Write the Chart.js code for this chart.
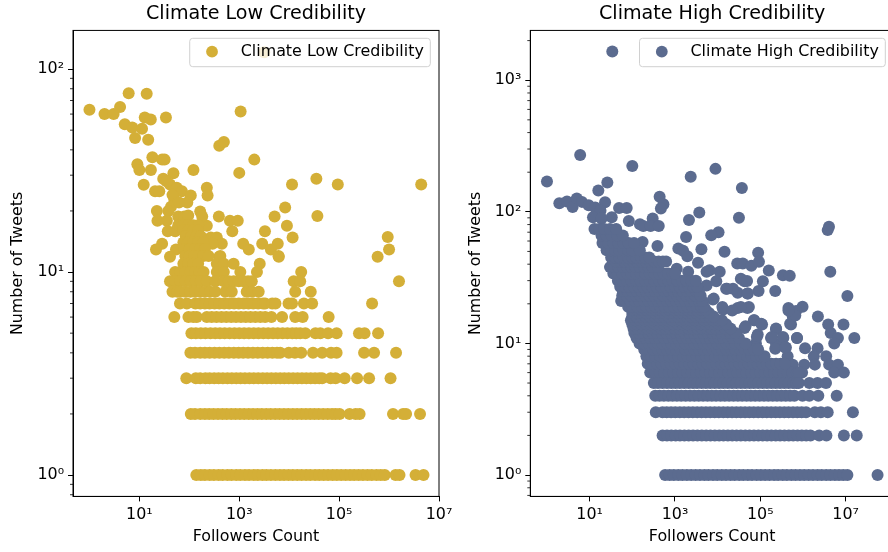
<!DOCTYPE html>
<html><head><meta charset="utf-8">
<script src="https://cdn.jsdelivr.net/npm/chart.js@4"></script>
<style>
html,body{margin:0;padding:0;width:888px;height:552px;overflow:hidden;background:#fff}
canvas{position:absolute;top:0}
#low{left:0}
#high{left:455px}
</style></head><body>
<canvas id="low" width="480" height="552"></canvas>
<canvas id="high" width="445" height="552"></canvas>
<script>
const lowLabel = "Climate Low Credibility";
const highLabel = "Climate High Credibility";
const xLabel = "Followers Count";
const yLabel = "Number of Tweets";
const xTickValues = [10, 1000, 100000, 10000000];
const xTickLabels = ["10¹", "10³", "10⁵", "10⁷"];
const lowYTickValues = [1, 10, 100];
const lowYTickLabels = ["10⁰", "10¹", "10²"];
const highYTickValues = [1, 10, 100, 1000];
const highYTickLabels = ["10⁰", "10¹", "10²", "10³"];
const lowYMinor = [0.8,0.9,2,3,4,5,6,7,8,9,20,30,40,50,60,70,80,90];
const highYMinor = [0.7,0.8,0.9,2,3,4,5,6,7,8,9,20,30,40,50,60,70,80,90,200,300,400,500,600,700,800,900,2000];

// Low credibility: individual points above the integer rows
const lowFollowers = [1,2,3.05,4.1,6.1,14,5.1,7.2,11.3,8.2,15,12.8,16.9,34,1065,398,492,2000,1000,18.2,28.5,32,9.1,10,17,12.2,121,224,232,11400,35000,94000,4400000,8300,5100,36700,9000,3270,11700,2880,5900,4300,6200,1200,1550,725,650,933,390,224,165,181,48,30,20.6,25,41,56,71,107,91,50,43,38,22.4,23,35.5,60,79,37,52,112,83,131,269,355,447,292,28.5,21.5,54,41,398,590000,1000000,940000,3160,35,46,62,95];
const lowTweets = [63,60,60,65,76,75.5,53.5,51.5,50.8,45.8,44.8,57.8,56.5,57.8,61.8,41.9,43.7,35.8,30.8,36.8,35.8,35.8,34,31.8,31.8,26.9,31.8,26,23.8,27,28.8,27,27,20.8,18.8,18.9,16.9,15.9,14.8,13.8,13.8,12.9,11.9,13.8,12.9,15.9,17.9,17.9,18.8,16.9,19.9,18.8,30.7,28.8,25,25,27,26,25,23.8,22,22.8,21,20,20,17.9,17.9,18.8,18.8,15.9,15.9,16.9,15.9,15.9,14.8,14.8,13.8,13.8,13.8,12.9,12.9,11.9,11.9,11.9,12.9,14.9,121,28,24,22,19];
const lowRow17 = [60,75,95,120,150];
const lowRow16 = [76,95,120,150];
const lowRow15 = [85,110,140,170];
const lowRow14 = [76,95,120,150,190];
const lowRow13 = [80,100,130,165,205];
const lowRow12 = [83,100,125,150,190,243,417,6100];
const lowRow11 = [76,95,120,150,355,490,770,2570];
const lowRow10 = [52,66,84,105,130,160,193,355,490,1050,2260,17400];
const lowRow9 = [41,52,66,84,107,135,170,224,331,490,620,776,980,1230,1500,1780,12300,16600,1580000];
const lowRow8 = [46,58,66,83,105,130,165,205,260,331,525,708,1410,1800,2450,13200,27000];
const lowRow7 = [65,89,132,165,205,255,320,400,500,630,790,980,1230,1530,1910,2390,3000,3300,4570,5300,9700,11400,19700,28800,457000];
const lowRow6 = [50,96,120,141,224,280,350,440,550,690,860,1080,1350,1680,2100,2640,3300,4400,7200,13200,18600,61700];
const lowRow5 = [110,135,170,210,265,330,410,510,640,800,1000,1250,1560,1950,2430,3040,3800,4750,5900,7400,9200,11500,13800,16600,21000,33500,42000,60000,89000,250000,323000,603000];
const lowRow4 = [105,130,165,205,255,320,400,500,620,780,970,1200,1500,1880,2350,2950,3700,4600,5700,6600,9800,13000,17400,30000,45700,69000,89000,316000,501000,1380000];
const lowRow3 = [87,135,165,210,255,315,385,470,580,710,870,1060,1300,1600,1950,2400,2950,3600,4400,5400,6600,8000,9800,12000,14700,18000,22000,27000,33000,40000,45700,67600,85100,129000,229000,398000,1070000];
const lowRow2 = [107,130,166,205,250,305,375,460,560,690,840,1030,1260,1550,1890,2320,2830,3480,4250,5250,6400,7850,9600,11800,14400,17700,21600,26300,32000,39000,48000,59000,72000,85000,102000,162000,214000,257000,1200000,1910000,2190000,4170000];
const lowRow1 = [138,170,205,255,310,385,465,580,700,870,1050,1300,1570,1950,2350,2900,3500,4300,5300,6500,7900,9700,11800,14500,17700,21800,26500,33000,40000,49000,60000,74000,90000,110000,135000,165000,200000,245000,300000,370000,450000,560000,680000,820000,1350000,1620000,3390000,4900000];

// High credibility: individual outlying points
const highFollowers = [34,6,1,26,16,100,2340,8900,37000,437,537,468,1.95,2.95,4,5,6.6,9.5,23,13.5,18,49,74,12,33,19,13,83,151,181,300,269,417,3720,2130,31600,10500,7080,1820,4070000,3800000,174,389,4170,1200,14500,89000,1550,1950,3470,28800,38900,61700,93000,1100,2040,6460,11200,5500,158000,339000,490000,4370000,42700,115000,91000,224000,11000000,5500,29500,50000,15800,22900,9300,7760,13500,29500,50000,457000,977000,692000,575000,2240000,3900000,8900000,525000,4470000,6600000,16000000,5400000,724000,347000,178000,234000,234000,110000,72000,42700,87000,79000,1120000,2200000,398000,1800000,3500000,437000,575000,1070000,1900000,4100000,6600000,5400000,9100000,955000,479000,35000,49000,16600,51000,8100,54000,35000,12900,22000,71000,105000,45000,83000,234000,186000,339000,724000,224000,380000,76000,500000,660000,458000];
const highTweets = [1650,270,170,167,145,223,185,212,152,130,114,106,116,120,109,126,119,112,118,108,102,107,107,91,91,89,74,85,80.5,78,89,78,78,99,86.5,90,70,66.5,64.5,77,72.6,59,55,52,52.7,49.7,48.9,50.6,46,41,40.5,40.5,38.9,41.7,37,35,36,35,35,35.8,33,32.7,35,29.7,29.7,25,25,22.9,27.5,24.3,24,26,26,29.7,21.6,18.1,18.6,18.6,18.6,19,17.6,16.1,16,13.9,13.9,13.9,12,11,11,10,11,11,11,12.8,9.9,13.9,15,13.1,11.7,10,9.2,9.2,9.3,8,8,8,6.9,6.9,6.9,6.9,6.9,6,6,6,6,31,29.8,26,24,21.9,18.9,18.9,18.9,17.8,15,14.1,13.5,11.2,13,11.2,11.2,11,9.1,9.3,9.4,14.1,16.3,17.8];
// High credibility: solid band, one list of follower counts per tweet count
const highBandTweets = [6,7,8,9,10,11,12,13,14,15,16,17,18,19,21,23,25,27,30,34,38,42,45,51,58,66,74];
const highBand6 = [263,340,440,560,720,920,1180,1510,1930,2470,3170,4050,5190,6640,8500,10900,13900,17800,22800,29200,37400,47800,61200,78400,100000,128000,164000,210000,268000,343000,440000,563000,720000,800000];
const highBand7 = [230,295,380,485,620,795,1020,1300,1670,2140,2740,3500,4490,5750,7360,9420,12100,15400,19800,25300,32400,41500,53100,68000,87000,111000,143000,182000,234000,299000,380000];
const highBand8 = [214,275,350,450,575,740,945,1210,1550,1980,2540,3250,4160,5330,6820,8730,11200,14300,18300,23400,30000,38400,49200,63000,80600,103000,126000];
const highBand9 = [190,243,311,398,510,652,835,1070,1370,1750,2240,2870,3670,4700,6020,7700,9860,12600,16200,20700,26400,33900,43300,55500,71000,89000];
const highBand10 = [148,190,243,310,398,510,650,835,1070,1370,1750,2240,2870,3670,4700,6020,7700,9860,12600,16200,20700,26400,33900,45000];
const highBand11 = [126,161,206,264,338,433,554,709,907,1160,1490,1900,2440,3120,3990,5110,6540,8370,10700,13700,17600,22500,31600];
const highBand12 = [112,143,183,235,300,384,492,630,806,1030,1320,1690,2160,2770,3540,4540,5810,7430,9510,12200,15600,20000,26000];
const highBand13 = [107,137,175,224,287,367,470,602,770,986,1260,1620,2070,2650,3390,4340,5550,7110,9100,11600,14900,20000];
const highBand14 = [100,128,164,210,268,343,440,563,720,922,1180,1510,1930,2470,3170,4050,5190,6640,8500,10900,13900,15800];
const highBand15 = [93,119,152,195,250,320,410,525,670,860,1100,1410,1800,2300,2950,3780,4840,6200,7930,10150,12600];
const highBand16 = [100,125,160,205,262,335,430,550,704,900,1150,1480,1890,2420,3100,3960,5070,6490,8000];
const highBand17 = [100,128,164,210,268,343,440,563,720,922,1180,1510,1930,2470,3170,4050,5190,6300];
const highBand18 = [102,130,167,214,274,350,449,574,735,941,1200,1540,1970,2520,3230,4140,5250];
const highBand19 = [80,102,131,168,215,275,352,451,577,738,945,1210,1550,1980,2540,3250,4160,4800];
const highBand21 = [55,70,90,115,147,189,241,309,396,507,648,830,1060,1360,1740,2230,2850,3650,4360];
const highBand23 = [58,74,95,122,156,199,255,327,418,535,685,877,1120,1440,1840,2350,3010,4000];
const highBand25 = [60,77,98,126,161,206,264,338,433,554,709,907,1160,1490,1900,2440,3120,3630];
const highBand27 = [52,67,85,109,140,179,229,293,375,480,615,787,1010,1290,1650,2110,2700,3300];
const highBand30 = [46,59,75,96,123,158,202,259,331,424,543,695,890,1140,1460,1870,2390,3100];
const highBand34 = [36,46,59,75,96,123,158,202,259,331,424,543,695,890,1000];
const highBand38 = [30,38,47,60,75,95,118,150,190,240,300,400];
const highBand42 = [42,53,66,83,105,130,165,208,260,330,415,520,620];
const highBand45 = [32,40,50,63,80,100,125,160,200,250];
const highBand51 = [25,32,40,50,63,80,100,150];
const highBand58 = [20,27,36,47,62,82,110];
const highBand66 = [19,25,33,45,60];
const highBand74 = [17,22,30,42];
const highRow5 = [320,400,510,650,820,1030,1300,1650,2100,2650,3300,4200,5300,6700,8500,10800,13600,17200,21800,27500,35000,44000,56000,70000,89000,113000,143000,181000,229000,290000,366000,462000,585000,700000,800000,1410000,2190000,3470000];
const highRow4 = [345,435,550,700,880,1110,1400,1780,2250,2850,3600,4570,5800,7300,9200,11700,14700,18600,23600,29800,37700,47700,60000,76000,96000,122000,154000,195000,246000,311000,394000,498000,630000,977000,1410000,2290000,6170000];
const highRow3 = [355,510,640,810,1020,1300,1640,2080,2620,3320,4200,5300,6700,8500,10700,13600,17200,21800,27500,34800,44000,55700,70000,89000,113000,142000,180000,228000,288000,365000,460000,585000,737000,930000,1180000,1900000,2630000,3800000,14800000];
const highRow2 = [513,650,820,1040,1310,1660,2100,2660,3360,4260,5400,6800,8600,10900,13700,17400,22000,27800,35000,44500,56000,71000,90000,114000,144000,182000,230000,291000,368000,466000,590000,747000,940000,1190000,1500000,2400000,3550000,9100000,18200000];
const highRow1 = [589,750,940,1200,1500,1900,2400,3050,3850,4900,6100,7800,9800,12500,15700,20000,25000,32000,40000,51000,64000,82000,103000,130000,164000,210000,262000,335000,420000,535000,670000,850000,1070000,1360000,1720000,2200000,2750000,3500000,4400000,5600000,7000000,8800000,11000000,56000000];

const lowColor = "#D4AF37";
const highColor = "#5B6B8F";

function zipPoints(xs, ys){ return xs.map((x,i)=>({x, y:ys[i]})); }
function rowPoints(xs, y){ return xs.map(x=>({x, y})); }

const lowPoints = [
  ...zipPoints(lowFollowers, lowTweets),
  ...rowPoints(lowRow17,17), ...rowPoints(lowRow16,16), ...rowPoints(lowRow15,15), ...rowPoints(lowRow14,14),
  ...rowPoints(lowRow13,13), ...rowPoints(lowRow12,12), ...rowPoints(lowRow11,11),
  ...rowPoints(lowRow10,10), ...rowPoints(lowRow9,9), ...rowPoints(lowRow8,8),
  ...rowPoints(lowRow7,7), ...rowPoints(lowRow6,6), ...rowPoints(lowRow5,5),
  ...rowPoints(lowRow4,4), ...rowPoints(lowRow3,3), ...rowPoints(lowRow2,2), ...rowPoints(lowRow1,1)
];
const highBands = [highBand6,highBand7,highBand8,highBand9,highBand10,highBand11,highBand12,highBand13,highBand14,highBand15,highBand16,highBand17,highBand18,highBand19,highBand21,highBand23,highBand25,highBand27,highBand30,highBand34,highBand38,highBand42,highBand45,highBand51,highBand58,highBand66,highBand74];
const highPoints = [
  ...zipPoints(highFollowers, highTweets),
  ...highBands.flatMap((b,i)=>rowPoints(b, highBandTweets[i])),
  ...rowPoints(highRow5,5), ...rowPoints(highRow4,4), ...rowPoints(highRow3,3),
  ...rowPoints(highRow2,2), ...rowPoints(highRow1,1)
];

const FONT = "'DejaVu Sans'";
const framePlugin = {
  id:'frame',
  afterDatasetsDraw(chart, args, o){
    const {ctx, chartArea:a, scales} = chart;
    ctx.save();
    ctx.strokeStyle = '#000'; ctx.lineWidth = 0.8;
    o.minor.forEach(v=>{
      const y = scales.y.getPixelForValue(v);
      if (y < a.top || y > a.bottom) return;
      ctx.beginPath(); ctx.moveTo(a.left-3, y); ctx.lineTo(a.left, y); ctx.stroke();
    });
    ctx.lineWidth = 1;
    ctx.strokeRect(a.left, a.top, a.right-a.left, a.bottom-a.top);
    const ds = chart.data.datasets[0];
    ctx.font = "15.9px "+FONT;
    const tw = ctx.measureText(ds.label).width;
    const bw = 51 + tw + 6.5, bh = 28.4;
    const bx = a.right - 8.7 - bw, by = 38.3;
    ctx.beginPath(); ctx.roundRect(bx, by, bw, bh, 3);
    ctx.fillStyle = 'rgba(255,255,255,0.8)'; ctx.fill();
    ctx.strokeStyle = '#d0d0d0'; ctx.lineWidth = 1; ctx.stroke();
    ctx.beginPath(); ctx.arc(bx+22.3, by+13.4, 5.9, 0, Math.PI*2);
    ctx.fillStyle = ds.backgroundColor; ctx.fill();
    ctx.fillStyle = '#000'; ctx.textBaseline='middle'; ctx.textAlign='left';
    ctx.fillText(ds.label, bx+51, by+13.6);
    ctx.restore();
  }
};

function makeChart(id, label, points, color, cfg){
  new Chart(document.getElementById(id), {
    type:'scatter',
    data:{datasets:[{label, data:points, backgroundColor:color, borderColor:color, borderWidth:0, pointRadius:6, pointHoverRadius:6}]},
    plugins:[framePlugin],
    options:{
      responsive:false, animation:false,
      layout:{padding:{left:0, right:cfg.rightPad, top:0, bottom:0}},
      plugins:{
        legend:{display:false}, tooltip:{enabled:false},
        title:{display:true, text:label, fullSize:false, color:'#000',
               font:{family:FONT, size:19.1, weight:'normal', lineHeight:1.2},
               padding:{top:3, bottom:4.5}},
        frame:{minor:cfg.minor}
      },
      scales:{
        x:{type:'logarithmic', min:cfg.xMin, max:cfg.xMax,
           afterBuildTicks(s){ s.ticks = xTickValues.map(value=>({value})); },
           afterFit(s){ s.height = 55.6; },
           grid:{drawOnChartArea:false, drawTicks:true, tickLength:5, tickColor:'#000', tickWidth:1},
           border:{color:'#000', width:1},
           ticks:{color:'#000', autoSkip:false, maxRotation:0, minRotation:0, padding:4,
                  font:{family:FONT, size:15.9},
                  callback(v){ const i = xTickValues.indexOf(v); return i<0 ? '' : xTickLabels[i]; }},
           title:{display:true, text:xLabel, color:'#000', font:{family:FONT, size:15.9}, padding:{top:0,bottom:5.8}}
        },
        y:{type:'logarithmic', min:cfg.yMin, max:cfg.yMax,
           afterBuildTicks(s){ s.ticks = cfg.yTicks.map(value=>({value})); },
           afterFit(s){ s.width = cfg.leftPad; },
           grid:{drawOnChartArea:false, drawTicks:true, tickLength:5, tickColor:'#000', tickWidth:1},
           border:{color:'#000', width:1},
           ticks:{color:'#000', autoSkip:false, padding:4,
                  font:{family:FONT, size:15.9},
                  callback(v){ const i = cfg.yTicks.indexOf(v); return i<0 ? '' : cfg.yLabels[i]; }},
           title:{display:true, text:yLabel, color:'#000', font:{family:FONT, size:15.9}, padding:{top:cfg.yTitlePad,bottom:0}}
        }
      }
    }
  });
}

makeChart('low', lowLabel, lowPoints, lowColor, {
  leftPad:73, rightPad:41, xMin:0.468, xMax:1e7, yMin:0.785, yMax:155,
  yTicks:lowYTickValues, yLabels:lowYTickLabels, minor:lowYMinor, yTitlePad:8.8
});
makeChart('high', highLabel, highPoints, highColor, {
  leftPad:75.3, rightPad:4, xMin:0.407, xMax:1.36e8, yMin:0.688, yMax:2390,
  yTicks:highYTickValues, yLabels:highYTickLabels, minor:highYMinor, yTitlePad:11.2
});
</script>
</body></html>
